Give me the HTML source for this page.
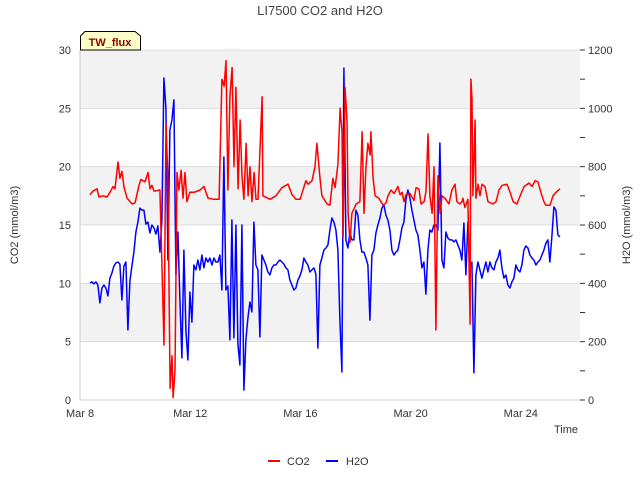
<!DOCTYPE html>
<html><head><meta charset="utf-8"><style>
body{margin:0;background:#fff;font-family:"Liberation Sans",sans-serif}
svg text{font-family:"Liberation Sans",sans-serif}
</style></head><body>
<svg id="c" width="640" height="480" xmlns="http://www.w3.org/2000/svg">
<text x="320" y="15" text-anchor="middle" font-size="13" fill="#444">LI7500 CO2 and H2O</text>
<g id="bands"></g><g id="grid"></g>
<g id="series"></g>
<g id="axes"></g>
<text transform="translate(18,225) rotate(-90)" text-anchor="middle" font-size="11" fill="#333">CO2 (mmol/m3)</text>
<text transform="translate(630,225) rotate(-90)" text-anchor="middle" font-size="11" fill="#333">H2O (mmol/m3)</text>
<text x="578" y="433" text-anchor="end" font-size="11" fill="#333">Time</text>
<g>
<path d="M80.5,50 L80.5,36 L85,31.5 L135,31.5 L140.5,36 L140.5,50 Z" fill="#ffffc8" stroke="#000" stroke-width="1"/>
<text x="110" y="46" text-anchor="middle" font-size="11" font-weight="bold" fill="#8b0000">TW_flux</text>
</g>
<g>
<g><line x1="268" y1="461" x2="280" y2="461" stroke="#f00" stroke-width="2"/><text x="287" y="465" font-size="11" fill="#333">CO2</text></g>
<g><line x1="326" y1="461" x2="338" y2="461" stroke="#00f" stroke-width="2"/><text x="346" y="465" font-size="11" fill="#333">H2O</text></g>
</g>
</svg>
<script>
const xTickLabels=["Mar 8","Mar 12","Mar 16","Mar 20","Mar 24"];
const xTickDays=[0,4,8,12,16];
const leftTicks=[0,5,10,15,20,25,30];
const rightTicks=[0,200,400,600,800,1000,1200];
const co2Days=[.36,.47,.62,.69,.83,.98,1.09,1.20,1.27,1.38,1.45,1.52,1.60,1.71,1.89,2.00,2.14,2.21,2.36,2.47,2.54,2.61,2.69,2.90,2.98,3.05,3.12,3.19,3.27,3.34,3.38,3.45,3.52,3.59,3.67,3.74,3.81,3.88,3.99,4.14,4.36,4.50,4.65,4.86,5.05,5.15,5.23,5.30,5.37,5.44,5.52,5.59,5.66,5.74,5.81,5.88,5.95,6.03,6.10,6.17,6.24,6.32,6.39,6.46,6.61,6.64,6.90,7.11,7.33,7.55,7.70,7.84,7.99,8.20,8.28,8.42,8.53,8.60,8.71,8.78,8.97,9.07,9.18,9.26,9.36,9.44,9.51,9.55,9.62,9.69,9.73,9.80,9.87,10.02,10.16,10.24,10.31,10.38,10.45,10.53,10.56,10.64,10.71,10.85,11.00,11.11,11.18,11.29,11.40,11.54,11.62,11.69,11.76,11.83,11.98,12.12,12.20,12.30,12.38,12.49,12.56,12.63,12.70,12.78,12.85,12.92,12.99,13.07,13.14,13.25,13.39,13.50,13.61,13.68,13.79,13.87,13.90,13.97,14.08,14.16,14.19,14.23,14.26,14.34,14.37,14.45,14.52,14.59,14.70,14.81,14.99,15.10,15.21,15.32,15.50,15.61,15.72,15.86,16.01,16.12,16.30,16.41,16.52,16.62,16.73,16.84,16.91,17.06,17.17,17.28,17.42];
const co2Values=[17.6,17.9,18.1,17.4,17.5,17.4,17.8,18.3,18.1,20.4,19.0,19.6,18.2,17.3,16.8,16.9,18.4,18.9,18.7,19.5,18.1,18.4,17.9,18.0,11.0,4.7,23.7,19.0,1.0,3.8,0.2,2.5,19.5,18.0,19.7,17.3,19.5,17.0,17.8,17.8,18.0,18.3,17.3,17.2,17.2,27.5,26.9,29.1,18.0,26.0,28.5,20.0,26.8,18.1,24.0,19.2,17.2,22.0,17.5,20.0,17.0,19.5,17.2,17.2,26.0,17.5,17.2,17.5,18.2,18.5,17.6,17.2,17.2,18.8,18.5,18.8,20.0,22.0,19.0,17.5,16.8,16.7,19.0,18.2,20.2,25.0,23.0,14.0,26.8,24.0,16.0,13.5,16.0,16.8,17.0,23.0,16.0,20.0,22.0,21.0,23.0,19.0,17.5,17.3,16.7,16.9,17.5,18.0,17.7,18.3,17.6,17.8,17.0,17.6,17.7,17.1,18.2,18.1,16.8,17.0,17.9,22.8,17.5,16.0,20.0,6.0,19.2,16.0,17.5,17.3,16.8,18.0,18.5,17.0,16.8,17.0,17.3,16.5,17.2,6.5,27.5,25.8,17.5,24.0,17.3,18.5,17.5,18.5,18.3,17.0,16.8,17.0,18.0,18.4,18.5,17.8,17.0,16.8,17.7,18.3,18.6,18.3,18.8,18.7,17.8,17.0,16.7,16.7,17.5,17.8,18.1];
const h2oStartDay=0.36, h2oStepDays=0.0726;
const h2oValues=[401,405,398,405,394,333,384,394,384,357,418,435,459,470,473,466,343,459,473,240,408,459,507,576,610,658,651,651,603,610,573,600,590,569,597,507,617,1104,1001,480,926,960,1029,429,576,343,144,514,240,137,370,267,463,446,480,446,497,453,487,473,487,463,487,473,473,497,377,833,377,391,206,617,213,600,192,120,600,34,206,281,336,302,610,463,446,216,497,480,463,439,429,453,463,463,473,480,473,466,453,446,411,394,377,384,411,425,446,487,473,463,439,446,453,432,178,463,487,514,521,531,583,624,610,583,514,274,96,1138,549,521,573,549,549,651,634,549,507,507,487,463,274,497,514,573,600,624,658,669,634,617,583,514,497,507,514,549,590,610,686,720,693,651,617,583,566,514,453,473,363,514,583,576,600,600,583,881,480,453,576,555,549,549,542,549,531,514,480,607,429,610,463,473,93,429,473,446,418,446,473,439,473,453,446,473,487,514,453,418,429,394,384,405,418,463,446,439,463,514,528,521,497,487,480,463,473,480,497,514,538,549,473,562,662,651,566,559];

const L=80,R=580,T=50,B=400,DAYPX=27.55;
const xs=d=>L+d*DAYPX;
const yL=v=>B-(v/30)*(B-T);
const yR=v=>B-(v/1200)*(B-T);
const NS="http://www.w3.org/2000/svg";
function mk(tag,attrs,parent){const e=document.createElementNS(NS,tag);for(const k in attrs)e.setAttribute(k,attrs[k]);parent.appendChild(e);return e;}
const bands=document.getElementById('bands'),grid=document.getElementById('grid'),axes=document.getElementById('axes'),series=document.getElementById('series');
mk('rect',{x:L,y:T,width:R-L,height:B-T,fill:'#fff'},bands);
for(let i=0;i<leftTicks.length-1;i++){
  if(i%2===1){const r=mk('rect',{x:L,y:yL(leftTicks[i+1]),width:R-L,height:yL(leftTicks[i])-yL(leftTicks[i+1]),fill:'#f2f2f2'},bands);
  
  }
}
leftTicks.forEach(v=>{
  const y=yL(v);
  const g=mk('line',{x1:L,x2:R,y1:y,y2:y,stroke:'#dcdcdc','stroke-width':1},grid);
  
  
  const t=mk('text',{x:71,y:y+4,'text-anchor':'end','font-size':11,fill:'#333'},axes);
  t.textContent=v;
  
  
});
mk('line',{x1:L,x2:L,y1:T,y2:B,stroke:'#ccc'},axes);
mk('line',{x1:L,x2:R,y1:B,y2:B,stroke:'#ccc'},axes);
for(let v=0;v<=1200;v+=100){
  const y=yR(v);
  mk('line',{x1:R,x2:R+5,y1:y,y2:y,stroke:'#333'},axes);
}
rightTicks.forEach(v=>{
  const t=mk('text',{x:588,y:yR(v)+4,'font-size':11,fill:'#333'},axes);
  t.textContent=v;
  
  
});
xTickDays.forEach((d,i)=>{
  const t=mk('text',{x:xs(d),y:417,'text-anchor':'middle','font-size':11,fill:'#333'},axes);
  t.textContent=xTickLabels[i];
  
  
});
const h2oPts=h2oValues.map((v,i)=>xs(h2oStartDay+i*h2oStepDays).toFixed(1)+','+yR(v).toFixed(1)).join(' ');
const hl=mk('polyline',{points:h2oPts,fill:'none',stroke:'#00f','stroke-width':1.5,'stroke-linejoin':'round'},series);


const co2Pts=co2Values.map((v,i)=>xs(co2Days[i]).toFixed(1)+','+yL(v).toFixed(1)).join(' ');
const cl=mk('polyline',{points:co2Pts,fill:'none',stroke:'#f00','stroke-width':1.5,'stroke-linejoin':'round'},series);


</script>
</body></html>
